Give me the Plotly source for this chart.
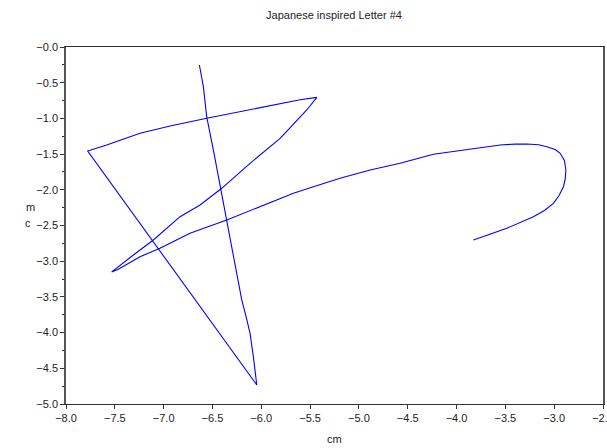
import plotly.graph_objects as go

x_cm = [-6.634, -6.613, -6.593, -6.559, -6.520, -6.484, -6.448, -6.412, -6.354, -6.286, -6.240, -6.200,
        -6.155, -6.115, -6.081, -6.060, -6.046,
        -7.778,
        -7.583, -7.242, -6.934, -6.559, -6.217, -5.900, -5.602, -5.431,
        -5.534, -5.807, -6.115, -6.405, -6.559, -6.627, -6.832, -7.105, -7.310, -7.515, -7.532,
        -7.464, -7.242, -7.037, -6.730, -6.354, -6.012, -5.671, -5.466, -5.193,
        -4.885, -4.578, -4.237, -3.895, -3.553, -3.400, -3.280, -3.160, -3.075, -2.990, -2.939, -2.895,
        -2.880, -2.887, -2.905, -2.950, -3.008, -3.100, -3.213, -3.485, -3.827]
y_cm = [-0.252, -0.400, -0.556, -0.976, -1.230, -1.489, -1.750, -2.003, -2.423, -2.937, -3.250, -3.543,
        -3.780, -4.010, -4.337, -4.550, -4.734,
        -1.457,
        -1.373, -1.209, -1.106, -0.999, -0.906, -0.818, -0.738, -0.705,
        -0.882, -1.279, -1.629, -1.979, -2.143, -2.213, -2.376, -2.703, -2.913, -3.133, -3.150,
        -3.114, -2.937, -2.819, -2.609, -2.423, -2.237, -2.049, -1.957, -1.839,
        -1.723, -1.629, -1.503, -1.433, -1.373, -1.360, -1.359, -1.370, -1.396, -1.435, -1.489, -1.590,
        -1.723, -1.850, -1.957, -2.080, -2.190, -2.290, -2.376, -2.539, -2.703]

x_tick_vals = [-8.0, -7.5, -7.0, -6.5, -6.0, -5.5, -5.0, -4.5, -4.0, -3.5, -3.0, -2.5]
x_tick_text = ["\u22128.0", "\u22127.5", "\u22127.0", "\u22126.5", "\u22126.0", "\u22125.5",
               "\u22125.0", "\u22124.5", "\u22124.0", "\u22123.5", "\u22123.0", "\u22122.5"]
y_tick_vals = [0.0, -0.5, -1.0, -1.5, -2.0, -2.5, -3.0, -3.5, -4.0, -4.5, -5.0]
y_tick_text = ["\u22120.0", "\u22120.5", "\u22121.0", "\u22121.5", "\u22122.0", "\u22122.5",
               "\u22123.0", "\u22123.5", "\u22124.0", "\u22124.5", "\u22125.0"]

font = dict(family="Liberation Sans, Arial, sans-serif", size=11, color="#222222")

fig = go.Figure(go.Scatter(x=x_cm, y=y_cm, mode="lines",
                           line=dict(color="#0000ff", width=1.1), showlegend=False))

fig.update_layout(
    width=607, height=448,
    margin=dict(l=66, r=4, t=47, b=44, autoexpand=False),
    paper_bgcolor="white", plot_bgcolor="white",
    font=font,
    title=dict(text="Japanese inspired Letter #4", x=334 / 607,
               xanchor="center", y=1 - 15 / 448, yanchor="middle", font=font),
)
fig.update_xaxes(range=[-8.0, -2.5], tickvals=x_tick_vals, ticktext=x_tick_text,
                 ticks="outside", ticklen=4, tickcolor="#333", showline=True, linecolor="#333",
                 linewidth=1, mirror=True, showgrid=False, zeroline=False, automargin=False,
                 ticklabeloverflow="allow")
fig.update_yaxes(range=[-5.0, 0.0], tickvals=y_tick_vals, ticktext=y_tick_text,
                 ticks="outside", ticklen=4, tickcolor="#333", showline=True, linecolor="#555",
                 linewidth=1.5, mirror=True, showgrid=False, zeroline=False, automargin=False,
                 ticklabeloverflow="allow",
                 minor=dict(dtick=0.25, tick0=0, ticks="outside", ticklen=2, tickcolor="#333"))
fig.add_annotation(text="cm", xref="paper", yref="paper", x=0.5, y=-35 / 357,
                   showarrow=False, font=font, xanchor="center", yanchor="middle")
fig.add_annotation(text="m", xref="paper", yref="paper", x=(30 - 66) / 537, y=1 - (207 - 47) / 357,
                   showarrow=False, font=font, xanchor="center", yanchor="middle")
fig.add_annotation(text="c", xref="paper", yref="paper", x=(28 - 66) / 537, y=1 - (223 - 47) / 357,
                   showarrow=False, font=font, xanchor="center", yanchor="middle")

fig.write_html("out.html", config={"displayModeBar": False},
               post_script="document.body.style.margin='0';")
